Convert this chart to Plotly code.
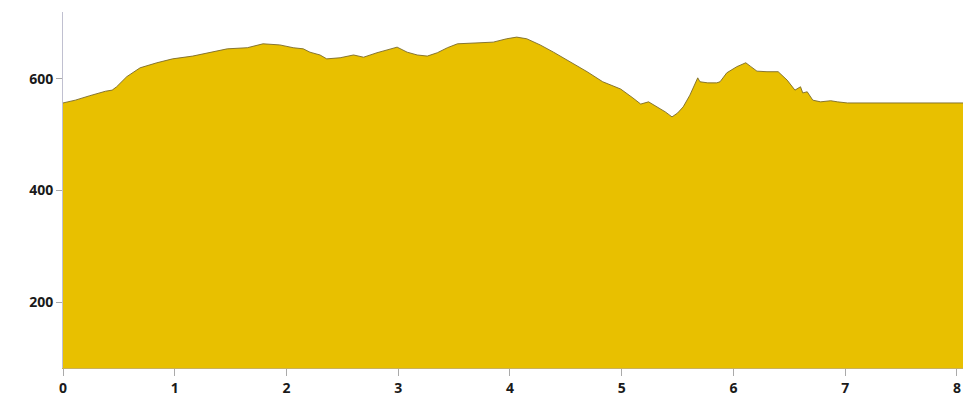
import plotly.graph_objects as go

distance_km = [0.00, 0.11, 0.24, 0.38, 0.44, 0.48, 0.57, 0.69, 0.84, 0.98, 1.16, 1.29, 1.47, 1.65,
               1.79, 1.94, 2.06, 2.15, 2.21, 2.30, 2.36, 2.48, 2.60, 2.69, 2.81, 2.99, 3.08, 3.17,
               3.26, 3.35, 3.44, 3.53, 3.71, 3.85, 3.97, 4.06, 4.15, 4.27, 4.39, 4.51, 4.69, 4.83,
               4.99, 5.10, 5.17, 5.24, 5.32, 5.39, 5.45, 5.50, 5.55, 5.61, 5.68, 5.70, 5.77, 5.85,
               5.88, 5.94, 6.03, 6.11, 6.15, 6.21, 6.30, 6.40, 6.48, 6.55, 6.60, 6.62, 6.66, 6.71,
               6.78, 6.87, 6.93, 7.02, 8.06]
elevation_m = [557, 562, 570, 578, 580, 586, 604, 620, 629, 636, 641, 647, 654, 656,
               663, 661, 656, 654, 648, 643, 636, 638, 643, 639, 647, 657, 648, 643,
               641, 647, 656, 663, 665, 666, 672, 675, 672, 661, 648, 634, 613, 595,
               582, 566, 555, 559, 550, 541, 532, 539, 550, 571, 602, 595, 593, 593,
               595, 611, 622, 629, 623, 614, 613, 613, 598, 580, 586, 575, 577, 562,
               559, 561, 559, 557, 557]

x_ticks = [0, 1, 2, 3, 4, 5, 6, 7, 8]
y_ticks = [200, 400, 600]

fig = go.Figure()
fig.add_trace(go.Scatter(
    x=distance_km, y=elevation_m, mode="lines", fill="tozeroy",
    fillcolor="#E8C000", line=dict(color="#7A6A28", width=0.9),
    hoverinfo="skip", showlegend=False,
))

tick_font = dict(family="Open Sans, DejaVu Sans, sans-serif", size=14, color="#1a1a1a", weight="bold")

fig.update_layout(
    width=963, height=405,
    margin=dict(l=63, r=0, t=12, b=37),
    plot_bgcolor="white", paper_bgcolor="white",
    xaxis=dict(range=[0, 8.054], tickvals=x_ticks, ticks="outside", ticklen=7,
               tickcolor="#aaaaaa", showgrid=False, zeroline=False, automargin=False,
               showline=True, linecolor="#c8b060", linewidth=1,
               tickfont=tick_font),
    yaxis=dict(range=[82, 720], tickvals=y_ticks, ticks="outside", ticklen=6,
               tickcolor="#aaaaaa", showgrid=False, zeroline=False, automargin=False,
               showline=True, linecolor="#c0c0d0", linewidth=1,
               tickfont=tick_font),
)

fig.write_html("out.html", config={"displayModeBar": False},
               post_script="document.body.style.margin='0';document.body.style.overflow='hidden';")
